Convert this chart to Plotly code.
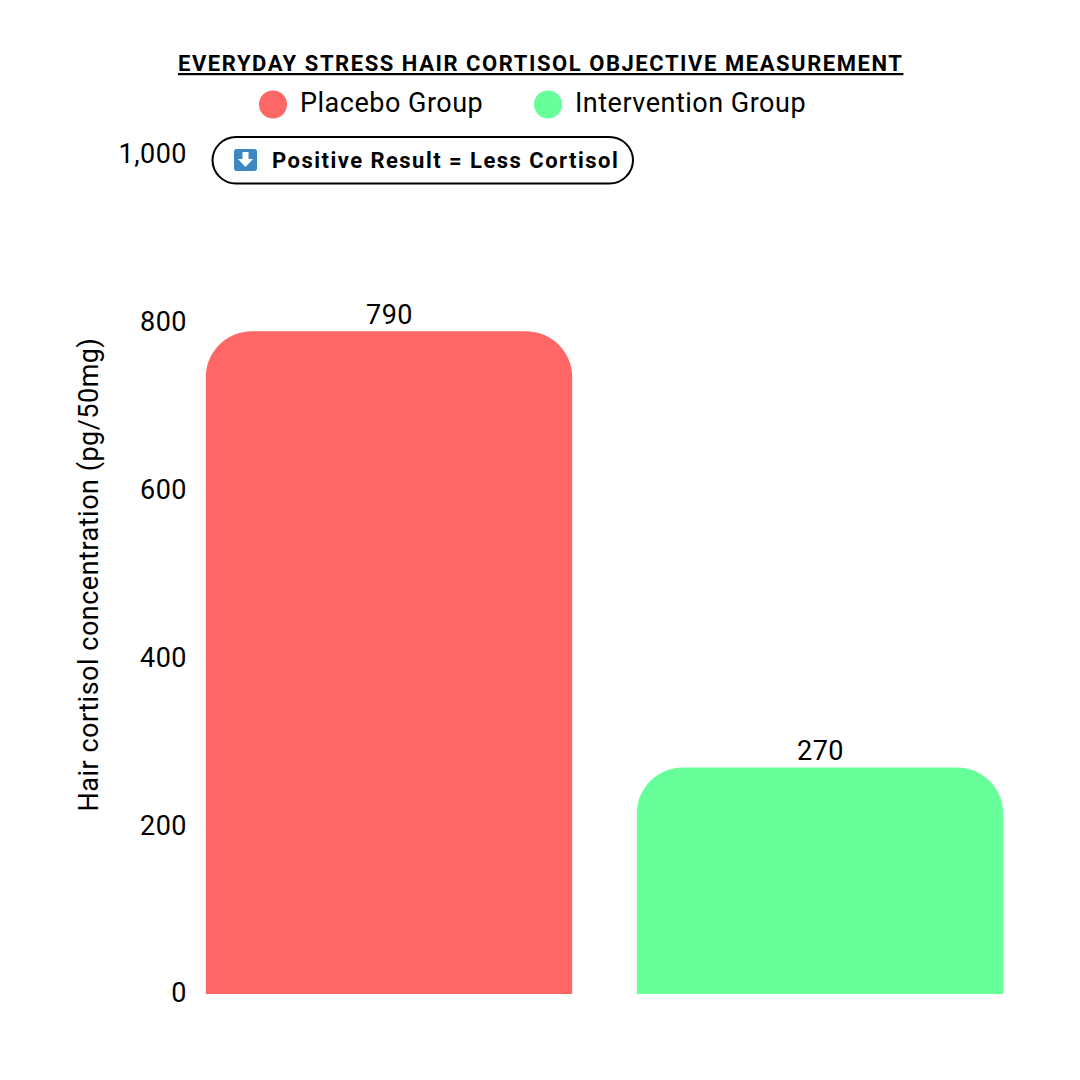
import plotly.graph_objects as go

categories = ["Placebo Group", "Intervention Group"]
values = [790, 270]
colors = ["#ff6666", "#66ff99"]
y_ticks = [0, 200, 400, 600, 800, 1000]
y_tick_labels = ["0", "200", "400", "600", "800", "1,000"]
title = "EVERYDAY STRESS HAIR CORTISOL OBJECTIVE MEASUREMENT"
y_title = "Hair cortisol concentration (pg/50mg)"
note = "Positive Result = Less Cortisol"

W, H = 1080, 1080
L, R, T, B = 190, 1036, 155, 994
FONT = "Roboto"
BODY = dict(family=FONT, size=27, color="#000")


def spaced(text, amount=0.5):
    return f'<span style="letter-spacing:{amount}px">{text}</span>'


def px(x):
    return (x - L) / (R - L)


def py(y):
    return (B - y) / (B - T)


def rrect(x0, y0, x1, y1, r):
    k = r * 0.45
    pts = [
        ("M", x0 + r, y0), ("L", x1 - r, y0),
        ("C", x1 - k, y0, x1, y0 + k, x1, y0 + r), ("L", x1, y1 - r),
        ("C", x1, y1 - k, x1 - k, y1, x1 - r, y1), ("L", x0 + r, y1),
        ("C", x0 + k, y1, x0, y1 - k, x0, y1 - r), ("L", x0, y0 + r),
        ("C", x0, y0 + k, x0 + k, y0, x0 + r, y0),
    ]
    out = []
    for p in pts:
        coords = p[1:]
        xy = " ".join(
            f"{px(coords[i]):.5f},{py(coords[i + 1]):.5f}" for i in range(0, len(coords), 2)
        )
        out.append(p[0] + xy)
    return " ".join(out) + " Z"


def poly(points):
    return "M" + " L".join(f"{px(a):.5f},{py(b):.5f}" for a, b in points) + " Z"


fig = go.Figure(
    go.Bar(
        x=categories,
        y=values,
        width=0.85,
        marker=dict(color=colors, line=dict(width=0), cornerradius=46),
        hoverinfo="skip",
    )
)

shapes = [
    dict(type="path", xref="paper", yref="paper", path=rrect(212.5, 137, 633, 183.5, 23.5),
         line=dict(color="#000", width=2), fillcolor="#fff"),
    dict(type="path", xref="paper", yref="paper", path=rrect(234, 149, 257, 171, 2.5),
         line=dict(width=0), fillcolor="#3b88c3"),
    dict(type="path", xref="paper", yref="paper",
         path=poly([(242.5, 152), (248.5, 152), (248.5, 159), (253, 159), (245.5, 167), (238, 159), (242.5, 159)]),
         line=dict(width=0), fillcolor="#fff"),
]
for cx, col in zip([273, 548], colors):
    shapes.append(dict(type="circle", xref="paper", yref="paper",
                       x0=px(cx - 14), x1=px(cx + 14), y0=py(118.5), y1=py(90.5),
                       line=dict(width=0), fillcolor=col))

annotations = [
    dict(text=spaced(f"<b><u>{title}</u></b>", 1.55),
         xref="paper", yref="paper", x=px(540.5), y=py(63), xanchor="center", yanchor="middle",
         showarrow=False, font=dict(family=FONT, size=22, color="#000")),
    dict(text=spaced(f"<b>{note}</b>", 1.47),
         xref="paper", yref="paper", x=px(270), y=py(160), xanchor="left", yanchor="middle",
         showarrow=False, font=dict(family=FONT, size=22, color="#000")),
]
for tx, name in zip([298, 573], categories):
    annotations.append(dict(text=spaced(name), xref="paper", yref="paper", x=px(tx), y=py(103),
                            xanchor="left", yanchor="middle", showarrow=False, font=BODY))
for cat, v in zip(categories, values):
    annotations.append(dict(text=spaced(str(v)), x=cat, y=v, xref="x", yref="y", yshift=-2,
                            xanchor="center", yanchor="bottom", showarrow=False, font=BODY))

fig.update_layout(
    width=W, height=H,
    margin=dict(l=L, r=W - R, t=T, b=H - B, pad=0, autoexpand=False),
    paper_bgcolor="#fff", plot_bgcolor="#fff",
    showlegend=False,
    font=dict(family=FONT, color="#000"),
    shapes=shapes,
    annotations=annotations,
    xaxis=dict(range=[(L - 389) / 431, (R - 389) / 431], showticklabels=False, showgrid=False,
               zeroline=False, showline=False, ticks="", fixedrange=True),
    yaxis=dict(range=[0, 1000], tickmode="array", tickvals=y_ticks,
               ticktext=[spaced(t) for t in y_tick_labels],
               showgrid=False, zeroline=False,
               showline=False, ticks="", ticklabelstandoff=2, ticklabelshift=-1,
               tickfont=BODY,
               title=dict(text=spaced(y_title), font=BODY, standoff=12),
               fixedrange=True),
)

fig.write_html("out.html", config={"displayModeBar": False},
               post_script="document.body.style.margin='0';")
